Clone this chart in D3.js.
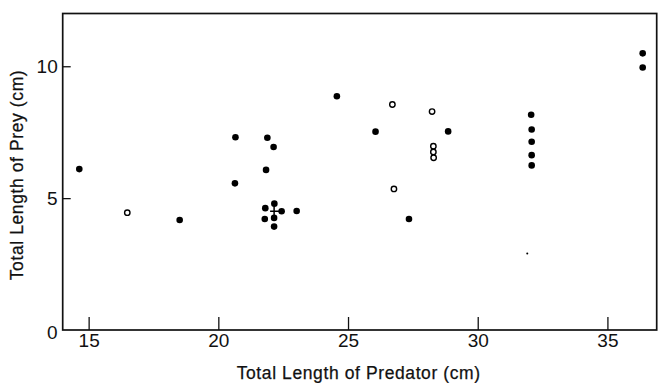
<!DOCTYPE html>
<html>
<head>
<meta charset="utf-8">
<script src="https://cdn.jsdelivr.net/npm/d3@7/dist/d3.min.js"></script>
<style>
  html, body { margin: 0; padding: 0; background: #fff; }
  svg { display: block; }
</style>
</head>
<body>
<svg id="chart" width="662" height="383"></svg>
<script>
// ---- data ----
const predatorLength = [14.64, 16.49, 18.51, 20.66, 20.64, 21.89, 22.13, 21.84, 21.81, 21.79,
  22.16, 22.15, 22.44, 22.15, 23.02, 24.57, 26.06, 26.71, 26.77, 27.35,
  28.24, 28.29, 28.29, 28.30, 28.86, 32.06, 32.08, 32.08, 32.08, 32.08,
  31.91, 36.36, 36.36, 22.15];
const preyLength = [6.10, 4.45, 4.17, 7.31, 5.56, 7.29, 6.94, 6.07, 4.62, 4.21,
  4.79, 4.25, 4.50, 3.92, 4.51, 8.86, 7.52, 8.55, 5.35, 4.21,
  8.28, 6.97, 6.75, 6.53, 7.53, 8.16, 7.60, 7.14, 6.63, 6.24,
  2.90, 10.49, 9.95, 4.50];
const markerType = ["filled", "open", "filled", "filled", "filled", "filled", "filled", "filled", "filled", "filled",
  "filled", "filled", "filled", "filled", "filled", "filled", "filled", "open", "open", "filled",
  "open", "open", "open", "open", "filled", "filled", "filled", "filled", "filled", "filled",
  "dot", "filled", "filled", "plus"];
const xTicks = [15, 20, 25, 30, 35];
const yTicks = [0, 5, 10];
const xTitle = "Total Length of Predator (cm)";
const yTitle = "Total Length of Prey (cm)";

// ---- layout ----
const svg = d3.select("#chart");
const mLeft = 62.7, mRight = 656.7, mTop = 13.5, mBottom = 330;
const x = d3.scaleLinear().domain([14, 36.9]).range([mLeft, mRight]);
const y = d3.scaleLinear().domain([0, 12]).range([mBottom, mTop]);
const font = "'Liberation Sans', Arial, Helvetica, sans-serif";

// frame
svg.append("rect")
  .attr("x", mLeft).attr("y", mTop)
  .attr("width", mRight - mLeft).attr("height", mBottom - mTop)
  .attr("fill", "none").attr("stroke", "#111").attr("stroke-width", 1.7);

// x axis (inward ticks)
const gx = svg.append("g")
  .attr("transform", `translate(0,${mBottom})`)
  .call(d3.axisBottom(x).tickValues(xTicks).tickSize(-13).tickPadding(3).tickFormat(d3.format("d")));
gx.select(".domain").remove();
gx.selectAll(".tick line").attr("stroke", "#111").attr("stroke-width", 1.3);
gx.selectAll(".tick text").attr("font-family", font).attr("font-size", 19).attr("fill", "#111");

// y axis (inward ticks)
const gy = svg.append("g")
  .attr("transform", `translate(${mLeft},0)`)
  .call(d3.axisLeft(y).tickValues(yTicks).tickSize(-8).tickPadding(5).tickFormat(d3.format("d")));
gy.select(".domain").remove();
gy.selectAll(".tick line").attr("stroke", "#111").attr("stroke-width", 1.3)
  .attr("opacity", d => d === 0 ? 0 : 1);
gy.selectAll(".tick text").attr("font-family", font).attr("font-size", 19).attr("fill", "#111")
  .attr("dy", d => d === 0 ? "0.45em" : "0.32em");

// titles
svg.append("text")
  .attr("x", (mLeft + mRight) / 2 - 1).attr("y", 379)
  .attr("text-anchor", "middle")
  .attr("font-family", font).attr("font-size", 17.5)
  .attr("letter-spacing", "0.6px")
  .attr("fill", "#111").attr("stroke", "#111").attr("stroke-width", 0.25)
  .text(xTitle);

svg.append("text")
  .attr("transform", `translate(23,175) rotate(-90)`)
  .attr("text-anchor", "middle")
  .attr("font-family", font).attr("font-size", 17.5)
  .attr("letter-spacing", "0.6px")
  .attr("fill", "#111").attr("stroke", "#111").attr("stroke-width", 0.25)
  .text(yTitle);

// points
const pts = predatorLength.map((v, i) => ({ px: v, py: preyLength[i], t: markerType[i] }));
const g = svg.append("g");
pts.forEach(d => {
  const cx = x(d.px), cy = y(d.py);
  if (d.t === "filled") {
    g.append("circle").attr("cx", cx).attr("cy", cy).attr("r", 3.3).attr("fill", "#000");
  } else if (d.t === "open") {
    g.append("circle").attr("cx", cx).attr("cy", cy).attr("r", 2.7)
      .attr("fill", "#fff").attr("stroke", "#000").attr("stroke-width", 1.4);
  } else if (d.t === "dot") {
    g.append("circle").attr("cx", cx).attr("cy", cy).attr("r", 1).attr("fill", "#000");
  } else if (d.t === "plus") {
    g.append("path")
      .attr("d", `M${cx - 4},${cy}H${cx + 5}M${cx},${cy - 5}V${cy + 5}`)
      .attr("stroke", "#000").attr("stroke-width", 1.5).attr("fill", "none");
  }
});
</script>
</body>
</html>
